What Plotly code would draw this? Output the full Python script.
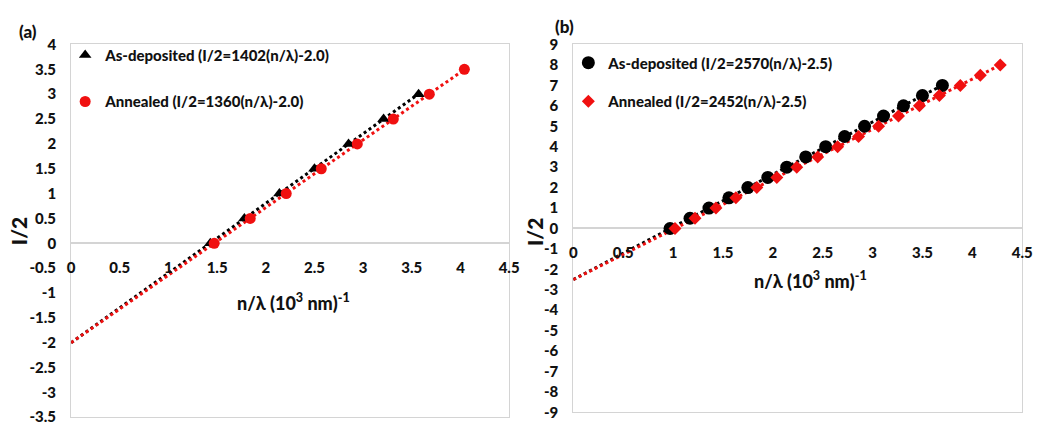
import plotly.graph_objects as go

W, H = 1046, 431
FONT = "Lato"
WEIGHT = 900

# Panel (a) data: n/lambda (10^3 nm^-1) vs order I/2
a_dep_x = [1.43, 1.78, 2.14, 2.50, 2.85, 3.21, 3.57]
a_dep_y = [0.0, 0.5, 1.0, 1.5, 2.0, 2.5, 3.0]
a_ann_x = [1.47, 1.84, 2.21, 2.57, 2.94, 3.31, 3.68, 4.04]
a_ann_y = [0.0, 0.5, 1.0, 1.5, 2.0, 2.5, 3.0, 3.5]
a_fit_dep = (1.402, -2.0)
a_fit_ann = (1.360, -2.0)

# Panel (b) data
b_dep_x = [0.97, 1.17, 1.36, 1.56, 1.75, 1.95, 2.14, 2.33, 2.53, 2.72, 2.92, 3.11, 3.31, 3.50, 3.70]
b_dep_y = [0.0, 0.5, 1.0, 1.5, 2.0, 2.5, 3.0, 3.5, 4.0, 4.5, 5.0, 5.5, 6.0, 6.5, 7.0]
b_ann_x = [1.02, 1.22, 1.43, 1.63, 1.84, 2.04, 2.24, 2.45, 2.65, 2.86, 3.06, 3.26, 3.47, 3.67, 3.88, 4.08, 4.28]
b_ann_y = [0.0, 0.5, 1.0, 1.5, 2.0, 2.5, 3.0, 3.5, 4.0, 4.5, 5.0, 5.5, 6.0, 6.5, 7.0, 7.5, 8.0]
b_fit_dep = (2.570, -2.5)
b_fit_ann = (2.452, -2.5)

a_xticks = [0, 0.5, 1, 1.5, 2, 2.5, 3, 3.5, 4, 4.5]
a_yticks = [4, 3.5, 3, 2.5, 2, 1.5, 1, 0.5, 0, -0.5, -1, -1.5, -2, -2.5, -3, -3.5]
b_xticks = [0, 0.5, 1, 1.5, 2, 2.5, 3, 3.5, 4, 4.5]
b_yticks = list(range(9, -10, -1))

a_xrange, a_yrange = [0, 4.5], [-3.5, 4]
b_xrange, b_yrange = [0, 4.5], [-9, 9]

BLACK = "#000000"
RED = "#f01010"
GRID = "#d4d4d4"
TXT = "#111111"


def px_dom(x0, x1):
    return [x0 / W, x1 / W]


def py_dom(top, bottom):
    return [1 - bottom / H, 1 - top / H]


a_xdom, a_ydom = px_dom(68, 512), py_dom(36, 425)
b_xdom, b_ydom = px_dom(577, 1032), py_dom(36, 420)


def zero_pos(ydom, yrange):
    f = (0 - yrange[0]) / (yrange[1] - yrange[0])
    return ydom[0] + f * (ydom[1] - ydom[0])


def fmt(v):
    return ("%g" % v)


def fit_line(coef, xmax):
    m, c = coef
    return [0, xmax], [c, m * xmax + c]


fig = go.Figure()

# ---- panel (a): dotted linear fits, then the measured points
fx, fy = fit_line(a_fit_dep, max(a_dep_x))
fig.add_trace(go.Scatter(x=fx, y=fy, mode="lines", line=dict(color=BLACK, width=3, dash="dot"),
                         showlegend=False, xaxis="x", yaxis="y", hoverinfo="skip"))
fx, fy = fit_line(a_fit_ann, max(a_ann_x))
fig.add_trace(go.Scatter(x=fx, y=fy, mode="lines", line=dict(color=RED, width=3, dash="dot"),
                         showlegend=False, xaxis="x", yaxis="y", hoverinfo="skip"))
fig.add_trace(go.Scatter(x=a_dep_x, y=a_dep_y, mode="markers", name="As-deposited (I/2=1402(n/λ)-2.0)",
                         marker=dict(symbol="triangle-up", size=11, color=BLACK),
                         xaxis="x", yaxis="y", legend="legend", legendgroup="a1"))
fig.add_trace(go.Scatter(x=a_ann_x, y=a_ann_y, mode="markers", name="Annealed (I/2=1360(n/λ)-2.0)",
                         marker=dict(symbol="circle", size=11, color=RED),
                         xaxis="x", yaxis="y", legend="legend", legendgroup="a2"))
# carrier for the tick-label axis at y = 0
fig.add_trace(go.Scatter(x=a_xrange, y=[0, 0], mode="lines", line=dict(width=0, color="rgba(0,0,0,0)"),
                         showlegend=False, xaxis="x3", yaxis="y", hoverinfo="skip"))

# ---- panel (b)
fx, fy = fit_line(b_fit_dep, max(b_dep_x))
fig.add_trace(go.Scatter(x=fx, y=fy, mode="lines", line=dict(color=BLACK, width=3, dash="dot"),
                         showlegend=False, xaxis="x2", yaxis="y2", hoverinfo="skip"))
fx, fy = fit_line(b_fit_ann, max(b_ann_x))
fig.add_trace(go.Scatter(x=fx, y=fy, mode="lines", line=dict(color=RED, width=3, dash="dot"),
                         showlegend=False, xaxis="x2", yaxis="y2", hoverinfo="skip"))
fig.add_trace(go.Scatter(x=b_dep_x, y=b_dep_y, mode="markers", name="As-deposited (I/2=2570(n/λ)-2.5)",
                         marker=dict(symbol="circle", size=13, color=BLACK),
                         xaxis="x2", yaxis="y2", legend="legend2", legendgroup="b1"))
fig.add_trace(go.Scatter(x=b_ann_x, y=b_ann_y, mode="markers", name="Annealed (I/2=2452(n/λ)-2.5)",
                         marker=dict(symbol="diamond", size=10, color=RED),
                         xaxis="x2", yaxis="y2", legend="legend2", legendgroup="b2"))
fig.add_trace(go.Scatter(x=b_xrange, y=[0, 0], mode="lines", line=dict(width=0, color="rgba(0,0,0,0)"),
                         showlegend=False, xaxis="x4", yaxis="y2", hoverinfo="skip"))

tickfont = dict(family=FONT, size=15, color=TXT, weight=WEIGHT)


def main_x(dom, rng, anchor):
    return dict(domain=dom, range=rng, anchor=anchor, showgrid=False, showticklabels=False,
                showline=True, mirror=True, linecolor=GRID, linewidth=1,
                zeroline=False, ticks="", fixedrange=True)


def main_y(dom, rng, anchor, ticks):
    return dict(domain=dom, range=rng, anchor=anchor, showgrid=False,
                showline=True, mirror=True, linecolor=GRID, linewidth=1,
                zeroline=True, zerolinecolor=GRID, zerolinewidth=1.5,
                tickmode="array", tickvals=ticks, ticktext=[fmt(t) for t in ticks],
                ticks="", tickfont=tickfont, ticklabelstandoff=11, fixedrange=True)


def label_x(dom, rng, over, ydom, yrng, ticks):
    return dict(domain=dom, range=rng, overlaying=over, anchor="free",
                position=zero_pos(ydom, yrng), side="bottom",
                showgrid=False, showline=False, zeroline=False,
                tickmode="array", tickvals=ticks, ticktext=[fmt(t) for t in ticks],
                ticks="", tickfont=tickfont, ticklabelstandoff=14, fixedrange=True)


legfont = dict(family=FONT, size=15, color=TXT, weight=WEIGHT)

fig.update_layout(
    width=W, height=H,
    margin=dict(l=0, r=0, t=0, b=0),
    paper_bgcolor="white", plot_bgcolor="white",
    font=dict(family=FONT, color=TXT),
    xaxis=main_x(a_xdom, a_xrange, "y"),
    yaxis=main_y(a_ydom, a_yrange, "x", a_yticks),
    xaxis2=main_x(b_xdom, b_xrange, "y2"),
    yaxis2=main_y(b_ydom, b_yrange, "x2", b_yticks),
    xaxis3=label_x(a_xdom, a_xrange, "x", a_ydom, a_yrange, a_xticks),
    xaxis4=label_x(b_xdom, b_xrange, "x2", b_ydom, b_yrange, b_xticks),
    legend=dict(x=62 / W, y=1 - 30 / H, xanchor="left", yanchor="top", bgcolor="rgba(0,0,0,0)",
                font=legfont, tracegroupgap=24, traceorder="grouped", itemwidth=30),
    legend2=dict(x=572 / W, y=1 - 38 / H, xanchor="left", yanchor="top", bgcolor="rgba(0,0,0,0)",
                 font=legfont, tracegroupgap=16, traceorder="grouped", itemwidth=30),
    showlegend=True,
)

titlefont = dict(family=FONT, size=18, color=TXT, weight=WEIGHT)
ann = []
# axis titles
for tx, ty in [(293, 305), (817, 282)]:
    ann.append(dict(text="n/λ (10<sup>3</sup> nm)<sup>-1</sup>", x=tx / W, y=1 - ty / H,
                    xref="paper", yref="paper", xanchor="center", yanchor="middle",
                    showarrow=False, font=titlefont))
for tx, ty in [(15, 231), (537, 232)]:
    ann.append(dict(text="I/2", x=tx / W, y=1 - ty / H, xref="paper", yref="paper",
                    xanchor="center", yanchor="middle", textangle=-90,
                    showarrow=False, font=dict(family=FONT, size=21, color=TXT, weight=WEIGHT)))
# panel labels
for txt, tx, ty in [("(a)", 24, 22), ("(b)", 568, 17)]:
    ann.append(dict(text=txt, x=tx / W, y=1 - ty / H, xref="paper", yref="paper",
                    xanchor="center", yanchor="middle",
                    showarrow=False, font=dict(family=FONT, size=17, color=TXT, weight=WEIGHT)))
fig.update_layout(annotations=ann)

fig.write_html("out.html")
